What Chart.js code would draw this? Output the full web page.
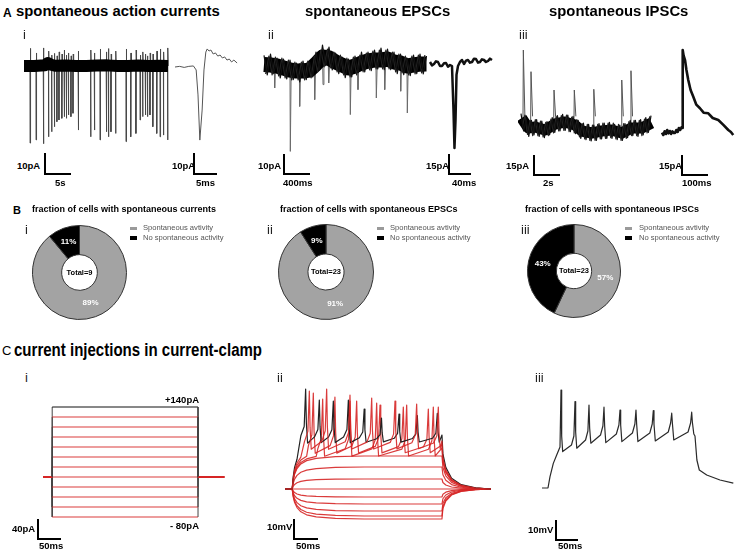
<!DOCTYPE html>
<html>
<head>
<meta charset="utf-8">
<title>spontaneous currents and current-clamp</title>
<script src="https://cdn.jsdelivr.net/npm/chart.js@4.4.1/dist/chart.umd.min.js"></script>
<style>
  html,body{margin:0;padding:0;background:#fff}
  #fig{position:relative;width:738px;height:556px;overflow:hidden;font-family:"Liberation Sans",Arial,Helvetica,sans-serif;color:#000}
  #fig canvas{position:absolute}
  .lbl{position:absolute;white-space:nowrap;line-height:1;transform-origin:0 0}
  .bar{position:absolute;border-left:2px solid #000;border-bottom:2px solid #000;box-sizing:border-box}
  .sw{position:absolute;width:7px;height:3.5px}
</style>
</head>
<body>
<div id="fig"></div>
<script>
// ---------- A i : spontaneous action currents (time s, current pA) ----------
const aiBandT = [0, 2, 4, 4.6, 5.2, 6, 8, 10, 12, 14, 16, 18, 20, 22, 24, 26, 27.7];
const aiBandI = [0, 0, 0.4, 1.4, 0.6, 0.1, 0.2, 0, 0, 0.2, 0.3, 0, 0, 0.2, 0, 0.1, 0];
const aiSpikeT = [1.15, 2.3, 3.7, 4.7, 5.3, 5.8, 6.3, 6.7, 7.25, 7.7, 8.1, 8.5, 9.0, 9.4, 10.4, 12.8, 13.5, 14.6,
  15.8, 16.2, 16.7, 17.6, 19.6, 20.5, 21.5, 22.3, 22.8, 23.3, 23.7, 24.2, 24.75, 25.5, 26.15, 26.8, 27.6];
const aiSpikeDown = [-36.7, -35.2, -37, -33.7, -31.3, -28.9, -26.5, -25.7, -24.9, -24.1, -24.9, -23.3, -24.1, -22.5,
  -30.5, -33.7, -30.5, -35.2, -31.3, -33.7, -31.3, -32.1, -36, -33.7, -32.1, -25.7, -24.1, -23.3, -24.1, -23.3,
  -28.9, -32.1, -33.7, -32.9, -35.2];
const aiSpikeUp = [8.4, 6.2, 8.6, 7.1, 5.2, 6.0, 4.8, 6.7, 5.7, 7.6, 5.2, 6.2, 4.8, 5.7, 7.1, 7.6, 6.2, 8.1, 6.7, 8.3,
  5.7, 7.1, 8.1, 6.2, 7.6, 5.2, 6.7, 5.7, 4.8, 6.2, 5.7, 7.1, 8.1, 6.7, 8.6];
// inset (ms, pA)
const aiInT = [0, 1, 2, 3, 4, 4.6, 5.0, 5.4, 5.9, 6.3, 6.7, 7.0, 7.4, 7.8, 8.3, 8.8, 9.3, 9.8, 10.3, 10.8, 11.3, 11.8, 12.3, 12.8, 13.5];
const aiInI = [0, 0.3, -0.2, 0.3, 0.5, -1.4, -13.3, -34.8, -20.5, -1.4, 7.1, 8.6, 7.6, 8.1, 6.2, 6.7, 5.2, 5.7, 4.3, 4.8, 3.3, 3.8, 2.4, 3.3, 1.9];

// ---------- A ii : spontaneous EPSCs (ms, pA) ----------
const aiiEnvT = [0, 100, 200, 300, 400, 500, 600, 700, 800, 900, 1000, 1100, 1200, 1300, 1400, 1500, 1600, 1700,
  1800, 1900, 2000, 2100, 2200, 2300, 2400, 2500];
const aiiEnvI = [-0.75, -1, -1.5, -2.5, -3.5, -4, -4, -3.5, -0.5, 3, 2.5, 0.5, -1, -2.5, -1.5, 0, 1, 1.5, 1.5, 2,
  0.5, 0, -1.5, -1, -0.5, -0.5];
const aiiNoiseDt = 50;
const aiiNoise = [3.8, -5.9, 4.5, -5.3, 2.5, -7.5, 2, -8, 1.5, -8.3, 0, -9.5, 1, -8.3, 0.5, -7, 5.5, -3.3, 9, -1.3,
  8, -3.5, 5, -5.3, 3, -7.3, 2, -7, 3.5, -4.8, 5.5, -4.5, 5.5, -3.8, 6.5, -3, 7.5, -3.3, 7, -3.3, 5.5, -5.3, 4.5,
  -5.8, 2.5, -6.3, 4, -5.3, 4.5, -5.5, 3.5];
// second pass of the same noise, sampled half a step later
const aiiNoiseB = [-5.5, 3.5, -6, 3, -6.5, 2.5, -7.5, 1.5, -8.5, 0.5, -8.5, 0.5, -8.5, 1, -7.5, 3.5, -4.5, 6.5, -2, 7,
  -2.5, 5.5, -4.5, 4, -6, 2.5, -7, 3, -6, 4, -4.5, 5, -3.5, 6, -3, 6.5, -3, 6.5, -3, 5.5, -4.5, 4.5, -5, 3.5, -6,
  3.5, -5.5, 4, -5, 4];
const aiiEvT = [164, 405, 549, 780, 908, 995, 1328, 1446, 1728, 1857, 2103, 2205];
const aiiEvI = [-12.5, -44.2, -21.7, -18.3, -10.8, -10, -25.8, -13.3, -17.5, -13.3, -14.1, -25];
const aiiInT = [0, 3.6, 7.3, 10.9, 14.5, 18.2, 21.8, 25.5, 29.1, 32.7, 36.4, 40, 42.7, 44.5, 46.4, 48.2, 50.9, 54.5,
  58.2, 61.8, 65.5, 69, 72.7, 76.4, 80, 83.6, 87.3, 90.9, 94.5, 98.2, 101.8, 105.5, 109.1, 112.7];
const aiiInI = [1.5, -1, 0, 2, 1.5, -1.5, -1.5, 0.5, 0.75, -2, -0.75, -1.5, -34.5, -63, -42, -8, -1.5, 1.5, 3, 0,
  2.5, 3, 1, 1.5, 4, 3.75, 1, 1.5, 3.5, 3, 1.5, 2.25, 4, 3];

// ---------- A iii : spontaneous IPSCs (s, pA) ----------
const aiiiEnvT = [0.05, 0.56, 1.08, 1.85, 2.62, 3.38, 4.15, 4.67, 5.44, 6.2, 6.97, 7.75, 8.5, 9.28, 10.05];
const aiiiEnvI = [6.75, -0.75, 0, -2.25, 2.25, 3.75, 1.5, -3, -4.5, -3, -2.25, -4.5, -0.75, -0.75, 3];
const aiiiNoiseDt = 0.2;
const aiiiNoise = [10, -3, 6, -7, 5, -6, 5.5, -7, 4.5, -8, 4, -6, 7, -4, 8.5, -3, 9.5, -2.5, 9, -3.5, 8, -5, 5, -8.5,
  3, -9.5, 2, -10.5, 1.5, -10, 2.5, -9, 3, -8.5, 3.5, -8.5, 2, -9.5, 1.5, -10, 2.5, -8, 5, -6.5, 5, -7, 5.5, -6, 7, -4, 8.5];
const aiiiNoiseB = [0, 9, -5.5, 5, -6.5, 5.5, -6.5, 4.5, -7.5, 3.5, -6.5, 6, -4.5, 8, -3, 8.5, -2.5, 9, -3.5, 7.5,
  -4.5, 5.5, -7.5, 2.5, -9, 2, -10, 1.5, -10, 2, -9, 3, -8.5, 3, -8, 3, -9, 2, -10, 2.5, -8.5, 4, -6.5, 5, -6.5, 5,
  -6.5, 6, -4.5, 8];
const aiiiEvT = [0.18, 0.77, 2.54, 4.1, 5.6, 7.75, 8.46];
const aiiiEvI = [57.75, 41.5, 27.75, 27.75, 28.3, 35.25, 42.2];
const aiiiInT = [0, 5, 10, 15, 20, 25, 30, 35, 40, 45, 50, 55, 60, 65, 70, 75.8, 77.7, 79.6, 83, 88.5, 94, 101, 110,
  120.4, 132, 146, 160, 178, 195, 216.5, 235, 255, 265, 274];
const aiiiInI = [-2, -3.75, -1, -3, 0, -2.5, -0.75, -3, -1, -2.25, -2.25, 0, -1.5, 1.5, 0, 2.25, 1.5, 60, 56, 52.5,
  45, 37.5, 30, 25, 19, 16.3, 13, 12.5, 9, 7.5, 4, 0, -1.5, -3.75];

// ---------- B : fraction of cells ----------
const bLabels = ['Spontaneous avtivity', 'No spontaneous activity'];
const bColors = ['#a3a3a3', '#000000'];
const bCurrentsPct = [89, 11], bCurrentsTotal = 9;
const bEpscPct = [91, 9], bEpscTotal = 23;
const bIpscPct = [57, 43], bIpscTotal = 23;

// ---------- C i : injected current steps (ms, pA) ----------
const ciLevels = [120, 100, 80, 60, 40, 20, 0, -20, -40, -60, -80, 140];
const ciStepOn = 20, ciStepOff = 337, ciEnd = 394;

// ---------- C ii : voltage responses (ms, mV from rest) ----------
const ciiStepOn = 15, ciiStepOff = 327, ciiEnd = 429;
const ciiSubLevels = [-15, -13.5, -11, -7.5, -4, 0, 5, 11, 16.5];
const ciiRiseT = [0, 2, 5, 10, 18, 30, 50, 90, 150];
const ciiRiseFrac = [0, 0.25, 0.45, 0.62, 0.76, 0.86, 0.93, 0.98, 1];
const ciiOffT = [0, 2, 8, 20, 40, 70, 102];
const ciiOffFrac = [1, 0.65, 0.4, 0.2, 0.08, 0.02, 0];
const spikeDt = [-10, -3, 0, 1.5, 4];
const spikeFrac = [0.1, 0.28, 1, 0.35, -0.04];
const ciiTrough = [24, 21, 19, 17.5];
const ciiSpkT1 = [43, 71.5, 100.7, 132, 165, 201, 237.5, 275.7, 317.3];
const ciiSpkV1 = [50, 44.5, 44, 44.5, 40, 35.5, 37.5, 36.7, 37.8];
const ciiSpkT2 = [50.7, 86.8, 135.4, 180.6, 229.2, 274.3, 319.4];
const ciiSpkV2 = [49, 50, 47, 45.5, 44, 42.5, 41];
const ciiSpkT3 = [59, 104, 149.3, 198, 246.5, 298.6];
const ciiSpkV3 = [48, 46, 44, 42, 41, 40];
const ciiSpkT4 = [78.5, 135.4, 191, 253.5, 309];
const ciiSpkV4 = [45, 44, 43, 42, 41];

// ---------- C iii : single trace (ms, mV from rest) ----------
const ciiiT = [0, 13.6, 18.2, 25.7, 33.4, 40.9, 43.2, 44.7, 47, 67, 72.5, 75, 76.5, 79, 99, 104.3, 106.8, 108.3, 111,
  133, 138.4, 140.9, 142.4, 145, 169, 174.8, 177.3, 178.8, 181.5, 205.5, 211.1, 213.6, 215.1, 218, 245, 250.5, 253,
  254.5, 257.5, 287, 292.3, 294.8, 296.3, 299.5, 332, 337.7, 340.2, 341.7, 345, 347.7, 352, 357.5, 374.3, 404.5, 434.8];
const ciiiV = [0, 0, 5.7, 12.3, 16.5, 20.5, 49, 26, 18.2, 21.5, 26, 43.2, 28, 19.9, 24, 28.5, 41.5, 30, 22.4,
  26.5, 31, 40.4, 31, 22.7, 27, 31.5, 39, 31.5, 23.2, 27.5, 32, 39, 32, 23.2, 27.5, 32, 38.7,
  32, 23.5, 28, 32.5, 37.4, 32.5, 24, 28, 32.5, 37.9, 33, 27, 26, 14, 9, 6.5, 4, 2.4];

// ---------------------------------------------------------------------------
const FONT = '"Liberation Sans", Arial, Helvetica, sans-serif';
const RED = 'rgba(214,38,38,0.9)';
const fig = document.getElementById('fig');
const pts = (xs, ys) => xs.map((x, i) => ({ x, y: ys[i] }));
const sampled = (vals, dt, t0) => vals.map((v, i) => ({ x:t0 + i*dt, y:v }));

function label(text, left, top, size, opts = {}){
  const d = document.createElement('div');
  d.className = 'lbl';
  d.textContent = text;
  d.style.left = left + 'px'; d.style.top = top + 'px';
  d.style.fontSize = size + 'px';
  d.style.fontWeight = opts.bold ? 'bold' : 'normal';
  if (opts.color) d.style.color = opts.color;
  if (opts.sx) d.style.transform = `scaleX(${opts.sx})`;
  fig.appendChild(d);
}
function scaleBar(x1, y1, x2, y2){
  const d = document.createElement('div');
  d.className = 'bar';
  d.style.left = (x1 - 1) + 'px'; d.style.top = y1 + 'px';
  d.style.width = (x2 - x1 + 1) + 'px'; d.style.height = (y2 - y1 + 1) + 'px';
  fig.appendChild(d);
}
function canvasAt(left, top, w, h){
  const cv = document.createElement('canvas');
  cv.width = w; cv.height = h;
  cv.style.left = left + 'px'; cv.style.top = top + 'px';
  fig.appendChild(cv);
  return cv;
}

// box: canvas place + where value 0 sits (x0,y0) and px per unit (sx,sy)
function tracePanel(box, datasets){
  const cv = canvasAt(box.left, box.top, box.w, box.h);
  return new Chart(cv, {
    type:'scatter',
    data:{ datasets: datasets.map(d => Object.assign({ showLine:true, pointRadius:0, pointHoverRadius:0, clip:false,
      spanGaps:false, tension:0, borderJoinStyle:'round', borderWidth:1 }, d)) },
    options:{
      responsive:false, animation:false, events:[],
      layout:{ padding:0 },
      plugins:{ legend:{ display:false }, tooltip:{ enabled:false } },
      scales:{
        x:{ type:'linear', display:false, min:(box.left - box.x0)/box.sx, max:(box.left + box.w - box.x0)/box.sx },
        y:{ type:'linear', display:false, min:(box.y0 - box.top - box.h)/box.sy, max:(box.y0 - box.top)/box.sy }
      }
    }
  });
}

// events as short excursions, broken by gaps
function events(ts, amps, pre, post, endVal){
  const out = [];
  ts.forEach((t, i) => {
    out.push({ x:t - pre, y:0 }, { x:t, y:amps[i] }, { x:t + post, y:endVal }, { x:t + post, y:null });
  });
  return out;
}

// ---- A i ----
const aiSpikes = [];
aiSpikeT.forEach((t, i) => {
  aiSpikes.push({ x:t, y:0 }, { x:t + 0.02, y:aiSpikeDown[i] }, { x:t + 0.08, y:aiSpikeUp[i] }, { x:t + 0.14, y:0 }, { x:t + 0.14, y:null });
});
tracePanel({ left:18, top:40, w:156, h:112, x0:24, y0:66, sx:5.2, sy:2.1 }, [
  { data:pts(aiBandT, aiBandI), borderColor:'#000', borderWidth:12 },
  { data:aiSpikes, borderColor:'#474747', borderWidth:1 }
]);
tracePanel({ left:172, top:40, w:68, h:112, x0:175, y0:67, sx:4.6, sy:2.1 }, [
  { data:pts(aiInT, aiInI), borderColor:'#555', borderWidth:1 }
]);

// ---- A ii ----
tracePanel({ left:260, top:35, w:170, h:130, x0:264, y0:63, sx:0.065, sy:2 }, [
  { data:sampled(aiiNoise, aiiNoiseDt, 0), borderColor:'#111', borderWidth:1.2 },
  { data:sampled(aiiNoiseB, aiiNoiseDt, aiiNoiseDt/2), borderColor:'#222', borderWidth:1.2 },
  { data:pts(aiiEnvT, aiiEnvI), borderColor:'#000', borderWidth:15 },
  { data:events(aiiEvT, aiiEvI, 6, 14, 0), borderColor:'#6a6a6a', borderWidth:1 }
]);
tracePanel({ left:428, top:35, w:68, h:125, x0:430, y0:64, sx:0.55, sy:1.333 }, [
  { data:pts(aiiInT, aiiInI), borderColor:'#111', borderWidth:2.5 }
]);

// ---- A iii ----
tracePanel({ left:518, top:40, w:140, h:110, x0:521, y0:127, sx:13, sy:1.333 }, [
  { data:sampled(aiiiNoise, aiiiNoiseDt, 0), borderColor:'#111', borderWidth:1.2 },
  { data:sampled(aiiiNoiseB, aiiiNoiseDt, aiiiNoiseDt/2), borderColor:'#222', borderWidth:1.2 },
  { data:pts(aiiiEnvT, aiiiEnvI), borderColor:'#000', borderWidth:11 },
  { data:events(aiiiEvT, aiiiEvI, 0.03, 0.12, 8), borderColor:'#555', borderWidth:1 }
]);
tracePanel({ left:660, top:40, w:78, h:110, x0:662, y0:130, sx:0.26, sy:1.333 }, [
  { data:pts(aiiiInT, aiiiInI), borderColor:'#111', borderWidth:2.6 }
]);

// ---- B doughnuts ----
const donutText = {
  id:'donutText',
  afterDatasetsDraw(chart, args, opts){
    const { ctx, chartArea } = chart;
    const meta = chart.getDatasetMeta(0);
    const vals = chart.data.datasets[0].data;
    ctx.save();
    ctx.textAlign = 'center'; ctx.textBaseline = 'middle';
    ctx.font = `bold 8px ${FONT}`;
    ctx.fillStyle = '#fff';
    meta.data.forEach((arc, i) => {
      const p = arc.tooltipPosition();
      ctx.fillText(vals[i] + '%', p.x, p.y);
    });
    ctx.fillStyle = '#000';
    ctx.font = `bold 7.5px ${FONT}`;
    ctx.fillText('Total=' + opts.total, (chartArea.left + chartArea.right)/2, (chartArea.top + chartArea.bottom)/2);
    ctx.restore();
  }
};
function donut(cx, cy, r, pct, total){
  const s = Math.round(2*r + 1);
  const cv = canvasAt(cx - s/2, cy - s/2, s, s);
  return new Chart(cv, {
    type:'doughnut',
    data:{ labels:bLabels, datasets:[{ data:pct, backgroundColor:bColors, borderColor:'#333', borderWidth:1 }] },
    options:{
      responsive:false, animation:false, events:[], cutout:'38%',
      plugins:{ legend:{ display:false }, tooltip:{ enabled:false }, donutText:{ total } }
    },
    plugins:[donutText]
  });
}
donut(79, 272, 47, bCurrentsPct, bCurrentsTotal);
donut(325.5, 271.5, 47.5, bEpscPct, bEpscTotal);
donut(573.5, 270.5, 46.5, bIpscPct, bIpscTotal);

[[130, 143], [377, 390], [625, 639]].forEach(([sx, tx]) => {
  bLabels.forEach((name, i) => {
    const sw = document.createElement('div');
    sw.className = 'sw';
    sw.style.left = sx + 'px'; sw.style.top = (226.5 + i*9.5) + 'px';
    sw.style.background = i ? '#000' : '#9a9a9a';
    fig.appendChild(sw);
    label(name, tx, 224.3 + i*9.5, 7.6, { color:'#555' });
  });
});

// ---- C i ----
// vertical edges of the steps look dark in the recording, flat parts red
const ciSets = ciLevels.map(L => ({
  data:[{ x:0, y:0 }, { x:ciStepOn, y:0 }, { x:ciStepOn, y:L }, { x:ciStepOff, y:L }, { x:ciStepOff, y:0 }, { x:ciEnd, y:0 }],
  borderColor: L === 140 ? '#111' : RED, borderWidth:1,
  segment:{ borderColor: c => (c.p0.parsed.x === c.p1.parsed.x ? '#444' : undefined) }
}));
tracePanel({ left:38, top:395, w:192, h:130, x0:43, y0:477, sx:0.46, sy:0.5 }, ciSets);

// ---- C ii ----
function subTrace(L){
  const p = [{ x:0, y:0 }, { x:ciiStepOn, y:0 }];
  ciiRiseT.forEach((dt, k) => p.push({ x:ciiStepOn + dt, y:L * ciiRiseFrac[k] }));
  p.push({ x:ciiStepOff, y:L });
  ciiOffT.forEach((dt, k) => p.push({ x:ciiStepOff + dt, y:L * ciiOffFrac[k] }));
  p.push({ x:ciiEnd, y:0 });
  return p;
}
function spikeTrace(times, peaks, tr){
  const p = [{ x:0, y:0 }, { x:ciiStepOn, y:0 }];
  ciiRiseT.forEach((dt, k) => { if (ciiStepOn + dt < times[0] + spikeDt[0]) p.push({ x:ciiStepOn + dt, y:tr * ciiRiseFrac[k] }); });
  times.forEach((ts, i) => spikeDt.forEach((d, k) => p.push({ x:ts + d, y:tr + spikeFrac[k] * (peaks[i] - tr) })));
  const endV = tr + 3;
  p.push({ x:ciiStepOff, y:endV });
  ciiOffT.forEach((dt, k) => p.push({ x:ciiStepOff + dt, y:endV * ciiOffFrac[k] }));
  p.push({ x:ciiEnd, y:0 });
  return p;
}
const ciiSets = [
  { data:spikeTrace(ciiSpkT2, ciiSpkV2, ciiTrough[1]), borderColor:RED, borderWidth:1.2 },
  { data:spikeTrace(ciiSpkT1, ciiSpkV1, ciiTrough[0]), borderColor:'#222', borderWidth:1.2 },
  { data:spikeTrace(ciiSpkT3, ciiSpkV3, ciiTrough[2]), borderColor:RED, borderWidth:1.2 },
  { data:spikeTrace(ciiSpkT4, ciiSpkV4, ciiTrough[3]), borderColor:RED, borderWidth:1.2 }
].concat(ciiSubLevels.map(L => ({ data:subTrace(L), borderColor:RED, borderWidth:1.2 })));
tracePanel({ left:280, top:380, w:215, h:145, x0:285, y0:489, sx:0.48, sy:2 }, ciiSets);

// ---- C iii ----
tracePanel({ left:538, top:380, w:200, h:115, x0:542, y0:488, sx:0.44, sy:2 }, [
  { data:pts(ciiiT, ciiiV), borderColor:'#2a2a2a', borderWidth:1.2 }
]);

// ---- text ----
label('A', 3, 6.6, 12, { bold:true });
label('spontaneous action currents', 16, 4.3, 14, { bold:true, sx:1.06 });
label('spontaneous EPSCs', 305, 4.3, 14, { bold:true, sx:1.06 });
label('spontaneous IPSCs', 549, 4.3, 14, { bold:true, sx:1.06 });
label('i', 23, 28.3, 13, { color:'#222' });
label('ii', 268, 28.3, 13, { color:'#222' });
label('iii', 519, 28.3, 13, { color:'#222' });

const sbl = (t, x, y) => label(t, x, y, 9.5, { bold:true });
sbl('10pA', 17, 161); sbl('5s', 55, 178);
sbl('10pA', 172, 161); sbl('5ms', 196, 178);
sbl('10pA', 258, 161); sbl('400ms', 283, 178.3);
sbl('15pA', 426, 161); sbl('40ms', 452, 178.3);
sbl('15pA', 506, 161); sbl('2s', 543, 178.3);
sbl('15pA', 659, 161); sbl('100ms', 682, 178.3);
scaleBar(45, 153, 71, 174); scaleBar(194, 153, 217, 174);
scaleBar(284, 154, 310, 174); scaleBar(449, 154, 471, 174);
scaleBar(534, 155, 560, 175); scaleBar(682, 155, 708, 175);

label('B', 13, 204.6, 11, { bold:true });
label('fraction of cells with spontaneous currents', 32, 204.7, 9, { bold:true });
label('fraction of cells with spontaneous EPSCs', 280, 204.7, 9, { bold:true });
label('fraction of cells with spontaneous IPSCs', 525, 204.7, 9, { bold:true });
label('i', 25, 222.6, 13, { color:'#222' });
label('ii', 267, 222.6, 13, { color:'#222' });
label('iii', 521, 222.6, 13, { color:'#222' });

label('C', 2, 343.6, 13);
label('current injections in current-clamp', 14, 341.4, 18, { bold:true, sx:0.835 });
label('i', 25, 370.6, 13, { color:'#222' });
label('ii', 277, 370.6, 13, { color:'#222' });
label('iii', 535, 370.6, 13, { color:'#222' });
sbl('+140pA', 165, 395.3); sbl('- 80pA', 170, 521.3);
sbl('40pA', 12, 524.3); sbl('50ms', 39, 541.3);
sbl('10mV', 267, 522.3); sbl('50ms', 296, 541.3);
sbl('10mV', 528, 525.3); sbl('50ms', 558, 541.3);
scaleBar(38, 519, 61, 539); scaleBar(294, 519, 318, 539); scaleBar(556, 520, 578, 540);
</script>
</body>
</html>
